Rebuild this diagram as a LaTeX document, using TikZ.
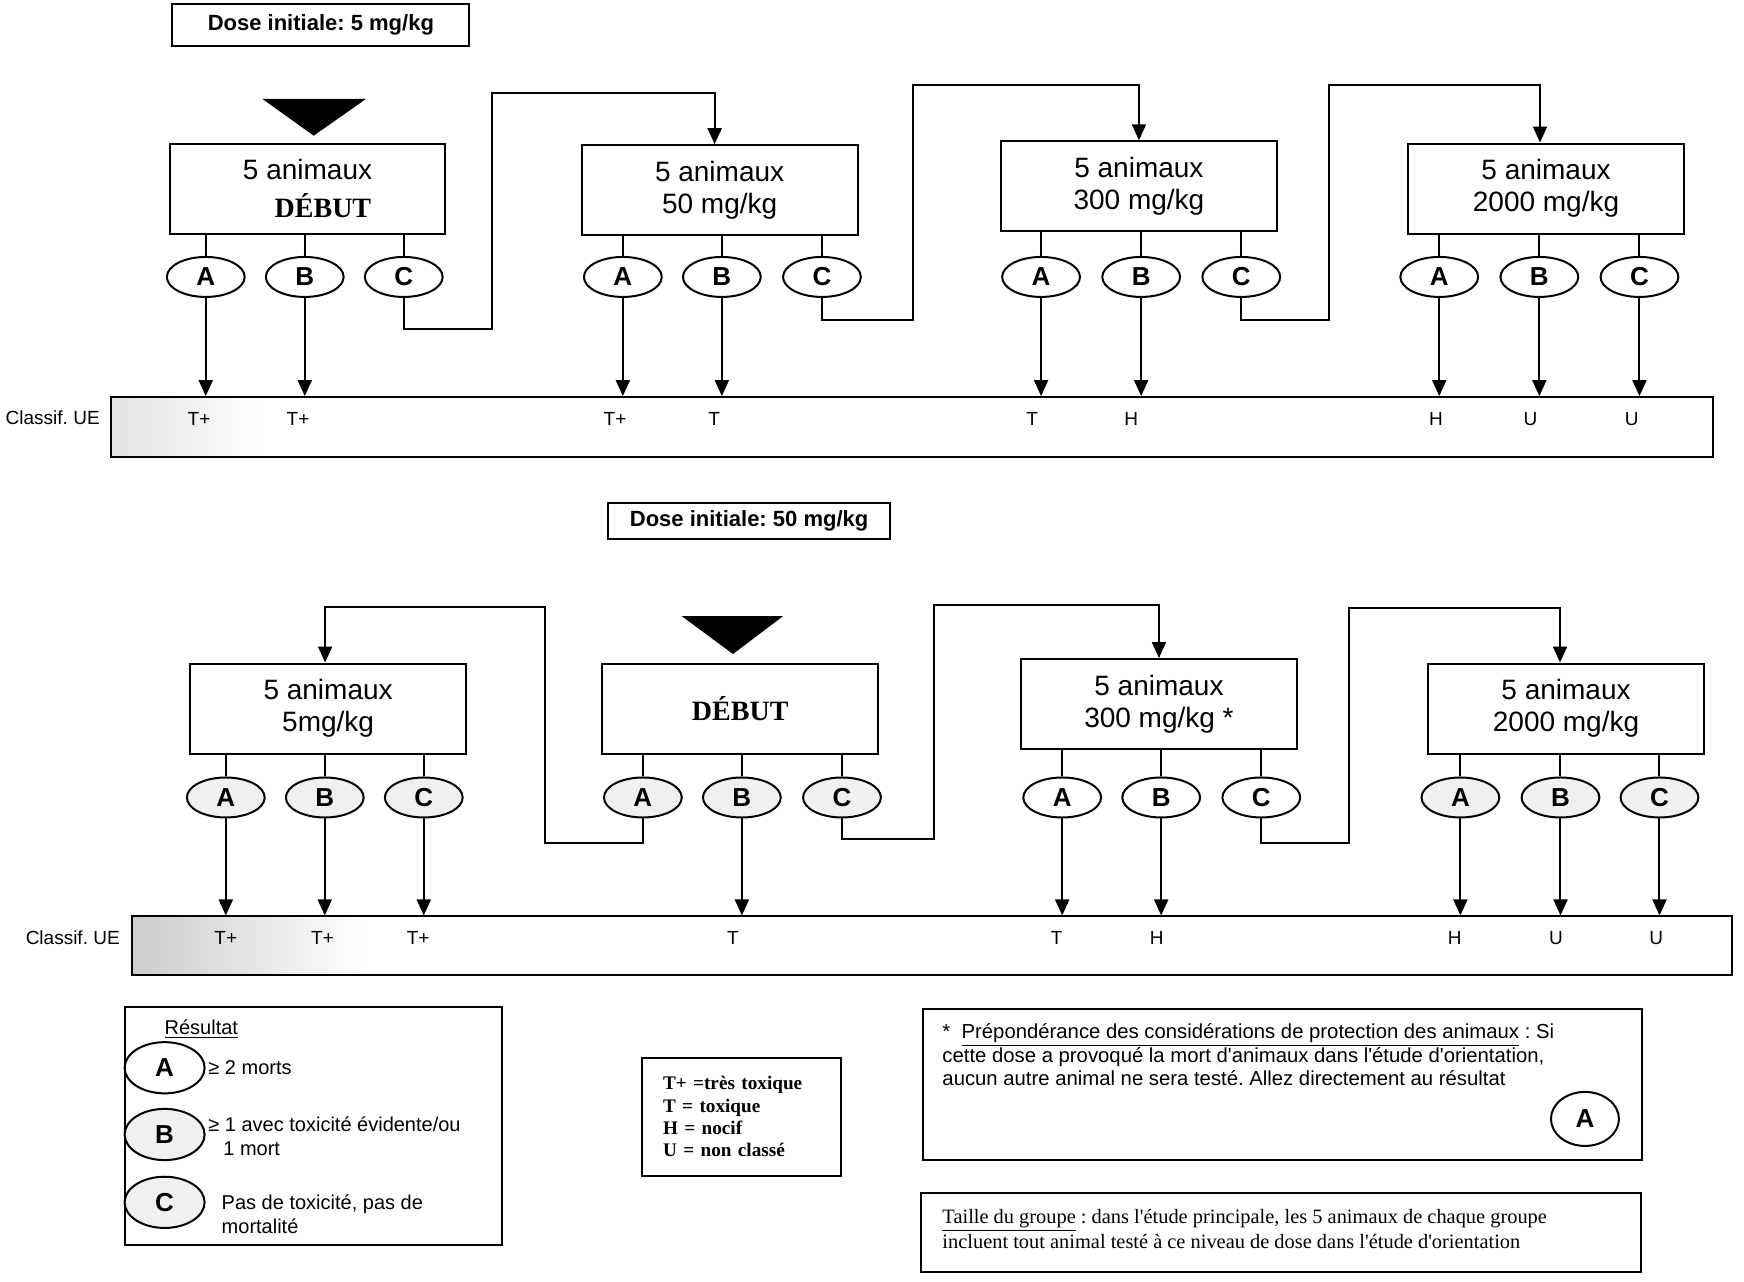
\documentclass[tikz,border=0pt]{standalone}
\usepackage{fontspec}
\setmainfont{Liberation Serif}[Ligatures=TeXOff]
\setsansfont{Liberation Sans}[Ligatures=TeXOff]
\frenchspacing
\usetikzlibrary{arrows.meta,shapes.geometric}
\tikzset{
  box/.style={draw, line width=1pt, minimum width=137.9pt, minimum height=45pt, inner sep=0pt, align=center, font=\fontsize{14}{16}\selectfont\sffamily},
  res/.style={draw, ellipse, line width=1pt, minimum width=38.9pt, minimum height=20pt, inner sep=0pt, font=\fontsize{13}{13}\selectfont\sffamily\bfseries},
  resb/.style={res, fill=gray!12},
  barbox/.style={draw, line width=1pt, inner sep=0pt},
  cls/.style={font=\fontsize{9.5}{10}\selectfont\sffamily, inner sep=0pt},
  arr/.style={line width=1pt, -{Triangle[length=8pt,width=7pt]}},
  ln/.style={line width=1pt},
  dosebox/.style={draw, line width=1pt, inner sep=0pt, font=\fontsize{11}{12}\selectfont\sffamily\bfseries},
  legtxt/.style={font=\fontsize{10}{11.7}\selectfont\sffamily, inner sep=0pt, align=left},
}
\begin{document}
\begin{tikzpicture}[x=0.5561pt,y=-0.5561pt]
\useasboundingbox (0,0) rectangle (1568,1152);

% ---------------- TOP SECTION ----------------
\node[dosebox, minimum width=148.5pt, minimum height=20.6pt] (dose1) at (288.5,22.5) {Dose initiale: 5 mg/kg};
\fill (236,89) -- (329,89) -- (282,122) -- cycle;

\node[box] (b1) at (276.5,169.5) {5 animaux\\[3pt]\hspace*{1.1em}{\rmfamily\bfseries DÉBUT}};
\node[box] (b2) at (647,171) {5 animaux\\50 mg/kg};
\node[box] (b3) at (1024,167.5) {5 animaux\\300 mg/kg};
\node[box] (b4) at (1390,169.5) {5 animaux\\2000 mg/kg};

\node[res] (a1) at (185,249) {A};
\node[res] (bb1) at (274,249) {B};
\node[res] (c1) at (363,249) {C};
\node[res] (a2) at (560,249) {A};
\node[res] (bb2) at (649,249) {B};
\node[res] (c2) at (739,249) {C};
\node[res] (a3) at (936,249) {A};
\node[res] (bb3) at (1026,249) {B};
\node[res] (c3) at (1116,249) {C};
\node[res] (a4) at (1294,249) {A};
\node[res] (bb4) at (1384,249) {B};
\node[res] (c4) at (1474,249) {C};

\foreach \b/\e in {b1/a1,b1/bb1,b1/c1,b2/a2,b2/bb2,b2/c2,b3/a3,b3/bb3,b3/c3,b4/a4,b4/bb4,b4/c4}
  \draw[ln] (\e.north) -- (\e.north |- \b.south);

\shade[left color=gray!22, right color=white] (100,357) rectangle (240,411);
\node[barbox, minimum width=800.8pt, minimum height=30pt] (bar1) at (820,384) {};
\node[cls, anchor=east] (cl1) at (90,376) {Classif. UE};

\foreach \e in {a1,bb1,a2,bb2,a3,bb3,a4,bb4,c4}
  \draw[arr] (\e.south) -- (\e.south |- bar1.north);

\node[cls] (t1) at (179,377) {T+};
\node[cls] (t2) at (268,377) {T+};
\node[cls] (t3) at (553,377) {T+};
\node[cls] (t4) at (642,377) {T};
\node[cls] (t5) at (928,377) {T};
\node[cls] (t6) at (1017,377) {H};
\node[cls] (t7) at (1291,377) {H};
\node[cls] (t8) at (1376,377) {U};
\node[cls] (t9) at (1467,377) {U};

\coordinate (k1a) at (442,296);
\coordinate (k1b) at (442,84);
\coordinate (k2a) at (821,288);
\coordinate (k2b) at (821,76);
\coordinate (k3a) at (1195,288);
\coordinate (k3b) at (1195,76);
\draw[arr] (c1.south) |- (k1a) -- (k1b) -| ([xshift=-2.5pt]b2.north);
\draw[arr] (c2.south) |- (k2a) -- (k2b) -| (b3.north);
\draw[arr] (c3.south) |- (k3a) -- (k3b) -| ([xshift=-3pt]b4.north);

% ---------------- BOTTOM SECTION ----------------
\node[dosebox, minimum width=140.7pt, minimum height=18.4pt] (dose2) at (673.5,468.5) {Dose initiale: 50 mg/kg};
\fill (613,554) -- (704,554) -- (659,588) -- cycle;

\node[box] (b5) at (295,637) {5 animaux\\5mg/kg};
\node[box] (b6) at (665.5,637) {\rmfamily\bfseries DÉBUT};
\node[box] (b7) at (1042,633) {5 animaux\\300 mg/kg *};
\node[box] (b8) at (1408,637) {5 animaux\\2000 mg/kg};

\node[resb] (a5) at (203,717) {A};
\node[resb] (bb5) at (292,717) {B};
\node[resb] (c5) at (381,717) {C};
\node[resb] (a6) at (578,717) {A};
\node[resb] (bb6) at (667,717) {B};
\node[resb] (c6) at (757,717) {C};
\node[res] (a7) at (955,717) {A};
\node[res] (bb7) at (1044,717) {B};
\node[res] (c7) at (1134,717) {C};
\node[resb] (a8) at (1313,717) {A};
\node[resb] (bb8) at (1403,717) {B};
\node[resb] (c8) at (1492,717) {C};

\foreach \b/\e in {b5/a5,b5/bb5,b5/c5,b6/a6,b6/bb6,b6/c6,b7/a7,b7/bb7,b7/c7,b8/a8,b8/bb8,b8/c8}
  \draw[ln] (\e.north) -- (\e.north |- \b.south);

\shade[left color=gray!40, right color=white] (119,824) rectangle (330,877);
\node[barbox, minimum width=799.7pt, minimum height=29.5pt] (bar2) at (838,850.5) {};
\node[cls, anchor=east] (cl2) at (108,843) {Classif. UE};

\foreach \e in {a5,bb5,c5,bb6,a7,bb7,a8,bb8,c8}
  \draw[arr] (\e.south) -- (\e.south |- bar2.north);

\node[cls] (u1) at (203,843) {T+};
\node[cls] (u2) at (290,843) {T+};
\node[cls] (u3) at (376,843) {T+};
\node[cls] (u4) at (659,843) {T};
\node[cls] (u5) at (950,843) {T};
\node[cls] (u6) at (1040,843) {H};
\node[cls] (u7) at (1308,843) {H};
\node[cls] (u8) at (1399,843) {U};
\node[cls] (u9) at (1489,843) {U};

\coordinate (k4a) at (490,758);
\coordinate (k4b) at (490,546);
\coordinate (k5a) at (840,754);
\coordinate (k5b) at (840,544);
\coordinate (k6a) at (1213,758);
\coordinate (k6b) at (1213,547);
\draw[arr] (a6.south) |- (k4a) -- (k4b) -| ([xshift=-1.5pt]b5.north);
\draw[arr] (c6.south) |- (k5a) -- (k5b) -| (b7.north);
\draw[arr] (c7.south) |- (k6a) -- (k6b) -| ([xshift=-3pt]b8.north);

% ---------------- LEGENDS ----------------
\node[draw, line width=1pt, minimum width=188.5pt, minimum height=119pt, inner sep=0pt] (leg) at (281.5,1012) {};
\node[legtxt] (restitle) at (181,925) {\underline{Résultat}};
\node[res, minimum width=40pt, minimum height=25.6pt] (la) at (148,960) {A};
\node[resb, minimum width=40pt, minimum height=25.6pt] (lb) at (148,1020) {B};
\node[resb, minimum width=40pt, minimum height=25.6pt] (lc) at (148,1081) {C};
\node[legtxt, anchor=west] (lta) at (187,960) {≥ 2 morts};
\node[legtxt, anchor=north west] (ltb) at (187,1004) {≥ 1 avec toxicité évidente/ou\\\hspace*{0.75em}1 mort};
\node[legtxt, anchor=north west] (ltc) at (199,1074) {Pas de toxicité, pas de\\mortalité};

\node[draw, line width=1pt, minimum width=99.5pt, minimum height=59pt, inner xsep=10.6pt, inner ysep=0pt, text width=78.3pt, align=left,
  font=\fontsize{9.6}{11.1}\selectfont\rmfamily\bfseries] (leg2) at (666.5,1004)
  {\raisebox{1.6pt}{T+ =très toxique}\\[-1.6pt]T = toxique\\H = nocif\\U = non classé\\[1.5pt]};

\node[draw, line width=1pt, minimum width=359.2pt, minimum height=75.6pt, inner sep=0pt] (note) at (1153,975) {};
\node[legtxt, font=\fontsize{10.15}{11.7}\selectfont\sffamily, anchor=north west] (notetxt) at (847,920)
  {*\ \ \underline{Prépondérance des considérations de protection des animaux} : Si\\
   cette dose a provoqué la mort d'animaux dans l'étude d'orientation,\\
   aucun autre animal ne sera testé. Allez directement au résultat};
\node[res, minimum width=34pt, minimum height=27pt] (notea) at (1425,1006) {A};

\node[draw, line width=1pt, minimum width=359.8pt, minimum height=39.5pt, inner sep=0pt] (taille) at (1151.5,1108.5) {};
\node[anchor=north west, inner sep=0pt, align=left, font=\fontsize{10.2}{12.2}\selectfont\rmfamily] (tailletxt) at (847,1087)
  {\underline{Taille du groupe} : dans l'étude principale, les 5 animaux de chaque groupe\\
   incluent tout animal testé à ce niveau de dose dans l'étude d'orientation};
\end{tikzpicture}
\end{document}
